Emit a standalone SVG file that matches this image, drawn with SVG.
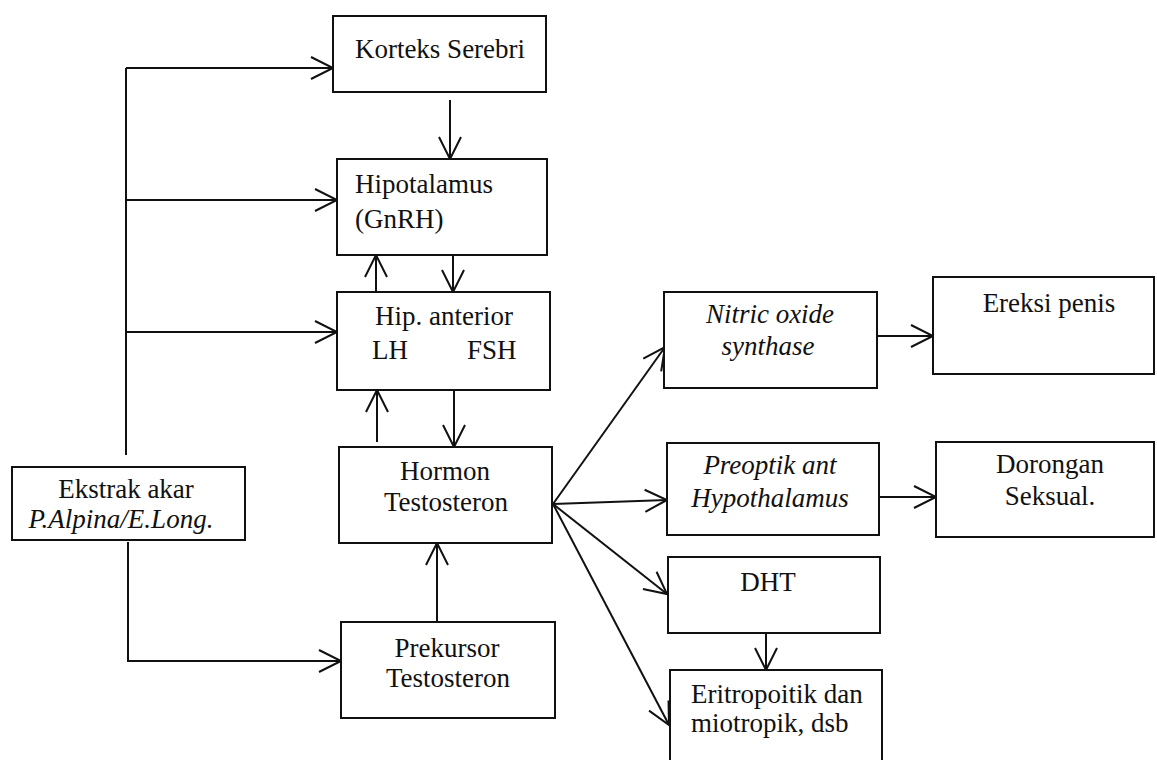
<svg xmlns="http://www.w3.org/2000/svg" width="1157" height="760" viewBox="0 0 1157 760">
<style>
.box{fill:#fff;stroke:#111;stroke-width:2}
.t{font-family:"Liberation Serif","Times New Roman",serif;font-size:27px;fill:#111}
.m{text-anchor:middle}
.i{font-style:italic}
.ln{fill:none;stroke:#111;stroke-width:2}
</style>
<defs>
<marker id="ah" viewBox="-26 -15 30 30" markerWidth="30" markerHeight="30" refX="0" refY="0" markerUnits="userSpaceOnUse" orient="auto" overflow="visible">
<path d="M-22,-11 L0,0 L-22,11" fill="none" stroke="#111" stroke-width="2"/>
</marker>
</defs>
<rect width="1157" height="760" fill="#fff"/>
<g id="connectors">
<path class="ln" d="M126,68 V455"/>
<path class="ln" d="M126,68 H333" marker-end="url(#ah)"/>
<path class="ln" d="M126,200 H337" marker-end="url(#ah)"/>
<path class="ln" d="M126,332 H337" marker-end="url(#ah)"/>
<path class="ln" d="M128,542 V661 H341" marker-end="url(#ah)"/>
<path class="ln" d="M450,100 V159" marker-end="url(#ah)"/>
<path class="ln" d="M376,292 V255" marker-end="url(#ah)"/>
<path class="ln" d="M453,255 V292" marker-end="url(#ah)"/>
<path class="ln" d="M377,442 V390" marker-end="url(#ah)"/>
<path class="ln" d="M454,390 V447" marker-end="url(#ah)"/>
<path class="ln" d="M437,622 V543" marker-end="url(#ah)"/>
<path class="ln" d="M553,504 L665,347" marker-end="url(#ah)"/>
<path class="ln" d="M553,504 L667,500" marker-end="url(#ah)"/>
<path class="ln" d="M553,504 L667,594" marker-end="url(#ah)"/>
<path class="ln" d="M553,504 L669,725" marker-end="url(#ah)"/>
<path class="ln" d="M877,336 H933" marker-end="url(#ah)"/>
<path class="ln" d="M879,497 H936" marker-end="url(#ah)"/>
<path class="ln" d="M766,633 V670" marker-end="url(#ah)"/>
</g>
<g id="korteks">
<rect class="box" x="333" y="16" width="213" height="76"/>
<text class="t m" x="440" y="58">Korteks Serebri</text>
</g>
<g id="hipotalamus">
<rect class="box" x="337" y="159" width="210" height="96"/>
<text class="t" x="355" y="193">Hipotalamus</text>
<text class="t" x="355" y="228">(GnRH)</text>
</g>
<g id="hip-anterior">
<rect class="box" x="337" y="292" width="213" height="98"/>
<text class="t m" x="444" y="325">Hip. anterior</text>
<text class="t" x="372" y="359">LH</text>
<text class="t" x="467" y="359">FSH</text>
</g>
<g id="hormon">
<rect class="box" x="339" y="447" width="213" height="96"/>
<text class="t m" x="445" y="480">Hormon</text>
<text class="t m" x="446" y="511">Testosteron</text>
</g>
<g id="ekstrak">
<rect class="box" x="12" y="467" width="233" height="73"/>
<text class="t m" x="126" y="498">Ekstrak akar</text>
<text class="t m i" x="121" y="528">P.Alpina/E.Long.</text>
</g>
<g id="prekursor">
<rect class="box" x="341" y="622" width="214" height="96"/>
<text class="t m" x="447" y="657">Prekursor</text>
<text class="t m" x="448" y="687">Testosteron</text>
</g>
<g id="nitric">
<rect class="box" x="664" y="292" width="213" height="96"/>
<text class="t m i" x="770" y="323">Nitric oxide</text>
<text class="t m i" x="768" y="355">synthase</text>
</g>
<g id="preoptik">
<rect class="box" x="667" y="443" width="212" height="92"/>
<text class="t m i" x="770" y="474">Preoptik ant</text>
<text class="t m i" x="770" y="507">Hypothalamus</text>
</g>
<g id="dht">
<rect class="box" x="668" y="557" width="212" height="76"/>
<text class="t m" x="768" y="591">DHT</text>
</g>
<g id="eritropoitik">
<rect class="box" x="670" y="670" width="212" height="100"/>
<text class="t" x="691" y="703">Eritropoitik dan</text>
<text class="t" x="691" y="732">miotropik, dsb</text>
</g>
<g id="ereksi">
<rect class="box" x="933" y="277" width="221" height="97"/>
<text class="t m" x="1049" y="312">Ereksi penis</text>
</g>
<g id="dorongan">
<rect class="box" x="936" y="442" width="218" height="95"/>
<text class="t m" x="1050" y="473">Dorongan</text>
<text class="t m" x="1050" y="505">Seksual.</text>
</g>
</svg>
